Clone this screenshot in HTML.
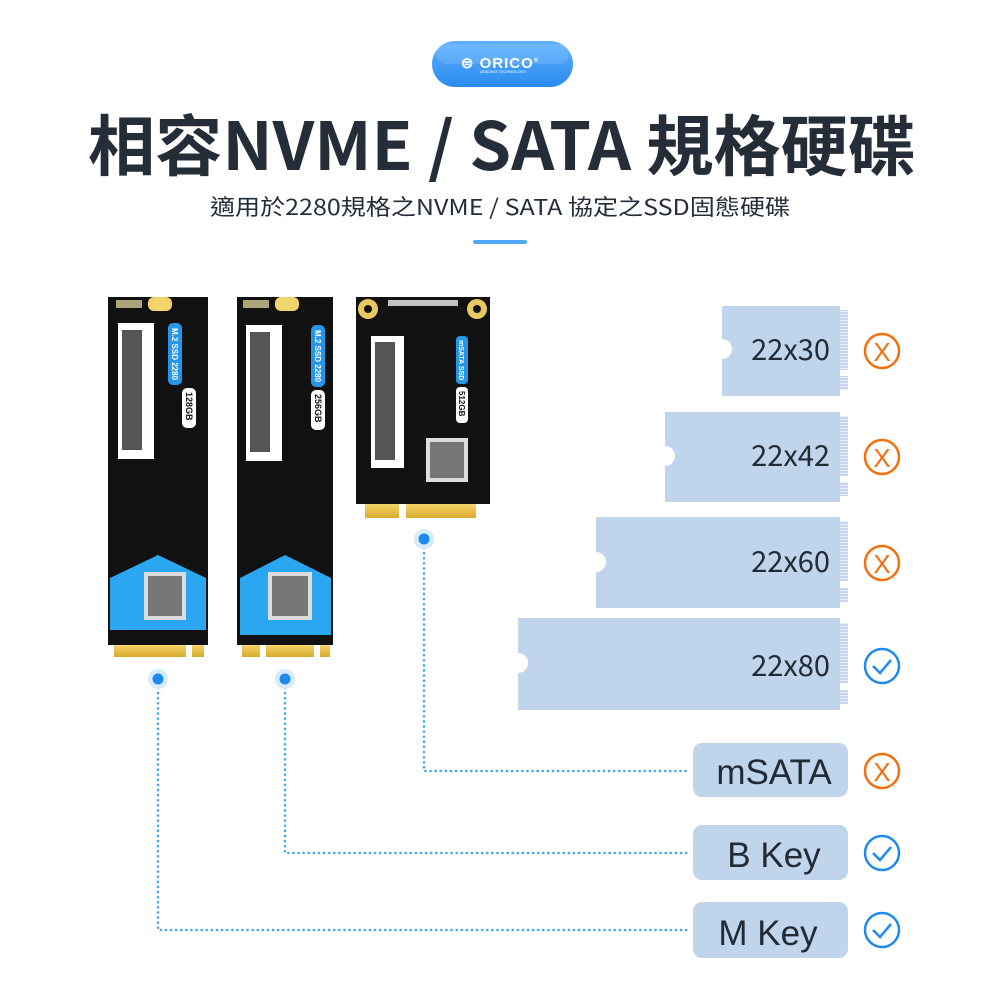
<!DOCTYPE html>
<html><head><meta charset="utf-8"><style>
html,body{margin:0;padding:0;background:#fff;}
svg{display:block;}
</style></head><body>
<svg width="1000" height="1000" viewBox="0 0 1000 1000" xmlns="http://www.w3.org/2000/svg">
<defs>
<linearGradient id="pill" x1="0" y1="0" x2="0" y2="1">
<stop offset="0" stop-color="#5fb0ff"/><stop offset="1" stop-color="#2a8cf0"/>
</linearGradient>
<linearGradient id="gold" x1="0" y1="0" x2="0" y2="1">
<stop offset="0" stop-color="#f5d46a"/><stop offset="1" stop-color="#d9a92c"/>
</linearGradient>
<pattern id="pins" width="8" height="3" patternUnits="userSpaceOnUse">
<rect width="8" height="3" fill="#c5d6ee"/><rect y="2" width="8" height="1" fill="#e8eff9"/>
</pattern>
</defs>

<rect x="432" y="41" width="141" height="46" rx="23" fill="url(#pill)"/>
<rect x="436" y="44" width="133" height="20" rx="10" fill="#fff" opacity="0.12"/>
<text x="500" y="68" text-anchor="middle" font-family="Liberation Sans, sans-serif" font-weight="bold" font-size="15" fill="#fff" letter-spacing="1">⊜ ORICO<tspan font-size="6" dy="-6">®</tspan></text>
<text x="503" y="73" text-anchor="middle" font-family="Liberation Sans, sans-serif" font-size="4" fill="#fff">LEADING TECHNOLOGY</text>

<text x="88" y="170" textLength="827" lengthAdjust="spacingAndGlyphs" font-family="Noto Sans CJK TC, sans-serif" font-weight="bold" font-size="66" fill="#252d38">相容NVME / SATA 規格硬碟</text>
<text x="210" y="215" textLength="580" lengthAdjust="spacingAndGlyphs" font-family="Noto Sans CJK TC, sans-serif" font-size="22" fill="#252d38">適用於2280規格之NVME / SATA 協定之SSD固態硬碟</text>
<rect x="473" y="240" width="54" height="4" rx="2" fill="#4ea8f5"/>

<g>
<rect x="108" y="297" width="100" height="348" fill="#111"/>
<rect x="148" y="297" width="24" height="14" rx="6" fill="#f2d46c"/>
<rect x="116" y="300" width="26" height="8" fill="#f0e4a0" opacity="0.7"/>
<rect x="118" y="323" width="36" height="136" fill="#fff"/>
<rect x="122" y="330" width="20" height="120" fill="#555"/>
<rect x="168" y="323" width="14" height="62" rx="5" fill="#2596e8"/>
<rect x="182" y="388" width="14" height="40" rx="5" fill="#fff"/>
<text transform="translate(172,328) rotate(90)" font-family="Liberation Sans, sans-serif" font-size="8" fill="#fff" font-weight="bold">M.2 SSD 2280</text>
<text transform="translate(186,392) rotate(90)" font-family="Liberation Sans, sans-serif" font-size="9" fill="#111" font-weight="bold">128GB</text>
<polygon points="110,578 158,555 206,578 206,630 110,630" fill="#2ba6f0"/>
<rect x="144" y="572" width="42" height="48" fill="#ddd"/>
<rect x="148" y="576" width="34" height="40" fill="#777"/>
<rect x="114" y="645" width="90" height="12" fill="url(#gold)"/>
<rect x="186" y="645" width="6" height="12" fill="#fff"/>
</g>

<g>
<rect x="237" y="297" width="96" height="348" fill="#111"/>
<rect x="275" y="297" width="24" height="14" rx="6" fill="#f2d46c"/>
<rect x="243" y="300" width="26" height="8" fill="#f0e4a0" opacity="0.7"/>
<rect x="246" y="325" width="36" height="136" fill="#fff"/>
<rect x="250" y="332" width="20" height="120" fill="#555"/>
<rect x="311" y="325" width="14" height="62" rx="5" fill="#2596e8"/>
<rect x="311" y="390" width="14" height="40" rx="5" fill="#fff"/>
<text transform="translate(315,330) rotate(90)" font-family="Liberation Sans, sans-serif" font-size="8" fill="#fff" font-weight="bold">M.2 SSD 2280</text>
<text transform="translate(315,394) rotate(90)" font-family="Liberation Sans, sans-serif" font-size="9" fill="#111" font-weight="bold">256GB</text>
<polygon points="240,578 285,555 331,578 331,635 240,635" fill="#2ba6f0"/>
<rect x="268" y="572" width="44" height="48" fill="#ddd"/>
<rect x="272" y="576" width="36" height="40" fill="#777"/>
<rect x="242" y="645" width="88" height="12" fill="url(#gold)"/>
<rect x="260" y="645" width="6" height="12" fill="#fff"/>
<rect x="314" y="645" width="6" height="12" fill="#fff"/>
</g>

<g>
<rect x="356" y="297" width="134" height="207" fill="#111"/>
<circle cx="368" cy="309" r="10" fill="#e8c860"/><circle cx="368" cy="309" r="4" fill="#111"/>
<circle cx="477" cy="309" r="10" fill="#e8c860"/><circle cx="477" cy="309" r="4" fill="#111"/>
<rect x="388" y="300" width="70" height="6" fill="#eee" opacity="0.8"/>
<rect x="371" y="336" width="33" height="132" fill="#fff"/>
<rect x="375" y="342" width="20" height="118" fill="#555"/>
<rect x="456" y="336" width="12" height="48" rx="4" fill="#2596e8"/>
<rect x="456" y="387" width="12" height="36" rx="4" fill="#fff"/>
<text transform="translate(459,340) rotate(90)" font-family="Liberation Sans, sans-serif" font-size="7" fill="#fff" font-weight="bold">mSATA SSD</text>
<text transform="translate(459,391) rotate(90)" font-family="Liberation Sans, sans-serif" font-size="8" fill="#111" font-weight="bold">512GB</text>
<rect x="426" y="438" width="42" height="44" fill="#ddd"/>
<rect x="430" y="442" width="34" height="36" fill="#777"/>
<rect x="365" y="504" width="34" height="14" fill="url(#gold)"/>
<rect x="406" y="504" width="70" height="14" fill="url(#gold)"/>
</g>

<g font-family="Noto Sans CJK TC, sans-serif" font-size="29" fill="#222a35" text-anchor="end">
<rect x="722" y="306" width="118" height="90" fill="#c0d4ec"/>
<circle cx="722" cy="349" r="10" fill="#fff"/>
<rect x="840" y="310" width="8" height="60" fill="url(#pins)"/><rect x="840" y="376" width="8" height="14" fill="url(#pins)"/>
<text x="830" y="360">22x30</text>

<rect x="665" y="412" width="175" height="90" fill="#c0d4ec"/>
<circle cx="665" cy="456" r="10" fill="#fff"/>
<rect x="840" y="416" width="8" height="60" fill="url(#pins)"/><rect x="840" y="482" width="8" height="14" fill="url(#pins)"/>
<text x="830" y="466">22x42</text>

<rect x="596" y="517" width="244" height="91" fill="#c0d4ec"/>
<circle cx="596" cy="562" r="10" fill="#fff"/>
<rect x="840" y="521" width="8" height="60" fill="url(#pins)"/><rect x="840" y="588" width="8" height="14" fill="url(#pins)"/>
<text x="830" y="572">22x60</text>

<rect x="518" y="618" width="322" height="92" fill="#c0d4ec"/>
<circle cx="518" cy="663" r="10" fill="#fff"/>
<rect x="840" y="623" width="8" height="60" fill="url(#pins)"/><rect x="840" y="690" width="8" height="14" fill="url(#pins)"/>
<text x="830" y="676">22x80</text>
</g>

<g font-family="Liberation Sans, sans-serif" font-size="35" fill="#222a35" text-anchor="middle">
<rect x="693" y="743" width="155" height="54" rx="9" fill="#c0d4ec"/>
<text x="774" y="784">mSATA</text>
<rect x="693" y="825" width="155" height="55" rx="9" fill="#c0d4ec"/>
<text x="774" y="867">B  Key</text>
<rect x="693" y="902" width="155" height="56" rx="9" fill="#c0d4ec"/>
<text x="768" y="945">M  Key</text>
</g>

<g fill="none" stroke-width="2.5">
<g stroke="#f2700f">
<circle cx="882" cy="351" r="17"/><circle cx="882" cy="457" r="17"/><circle cx="882" cy="563" r="17"/><circle cx="882" cy="771" r="17"/>
</g>
<g stroke="#1e8af0">
<circle cx="882" cy="666" r="17"/><circle cx="882" cy="853" r="17"/><circle cx="882" cy="930" r="17"/>
<path d="M873,666 l7,7 l11,-13"/><path d="M873,853 l7,7 l11,-13"/><path d="M873,930 l7,7 l11,-13"/>
</g>
</g>
<g font-family="Liberation Sans, sans-serif" font-size="26" fill="#f2700f" text-anchor="middle">
<text x="882" y="361">X</text><text x="882" y="467">X</text><text x="882" y="573">X</text><text x="882" y="781">X</text>
</g>

<g fill="none" stroke="#3aa7ef" stroke-width="2.5" stroke-dasharray="0.1 5" stroke-linecap="round">
<path d="M424,548 V771 H690"/>
<path d="M285,688 V853 H690"/>
<path d="M158,688 V930 H690"/>
</g>
<g>
<circle cx="424" cy="539" r="10" fill="#d6ebfb"/><circle cx="424" cy="539" r="5.5" fill="#1e8af0"/>
<circle cx="285" cy="679" r="10" fill="#d6ebfb"/><circle cx="285" cy="679" r="5.5" fill="#1e8af0"/>
<circle cx="158" cy="679" r="10" fill="#d6ebfb"/><circle cx="158" cy="679" r="5.5" fill="#1e8af0"/>
</g>
</svg>
</body></html>
